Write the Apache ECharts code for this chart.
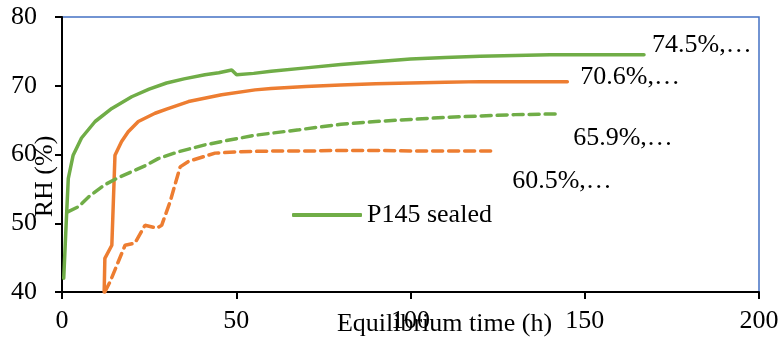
<!DOCTYPE html>
<html>
<head>
<meta charset="utf-8">
<script src="https://cdn.jsdelivr.net/npm/echarts@6/dist/echarts.min.js"></script>
<style>
  html, body { margin: 0; padding: 0; background: #fff; }
  #main { width: 781px; height: 342px; }
</style>
</head>
<body>
<div id="main"></div>
<script>
// green solid (the only series shown in the legend)
const sealedTime = [0.5, 1.2, 1.8, 3.2, 5.6, 9.5, 14.3, 20, 25, 30, 35, 41, 45, 48.7, 50.1, 55, 60, 70, 80, 90, 100, 110, 120, 130, 140, 150, 167];
const sealedRH = [42, 50, 56.5, 59.9, 62.4, 64.8, 66.7, 68.4, 69.5, 70.4, 71.0, 71.6, 71.9, 72.3, 71.6, 71.8, 72.1, 72.6, 73.1, 73.5, 73.9, 74.1, 74.3, 74.4, 74.5, 74.5, 74.5];

// orange solid
const orangeTime = [12.1, 12.3, 14.3, 15.2, 17.1, 19, 21.9, 26.7, 30, 36.3, 45.8, 55.4, 60, 70, 80, 90, 100, 110, 120, 130, 140, 145];
const orangeRH = [40, 44.9, 46.8, 59.9, 61.9, 63.3, 64.8, 66.0, 66.6, 67.7, 68.7, 69.4, 69.6, 69.9, 70.1, 70.3, 70.4, 70.5, 70.6, 70.6, 70.6, 70.6];

// green dashed
const greenDashTime = [1.8, 4.7, 8, 12.3, 16, 20, 24, 27.6, 33.4, 41, 48, 55.4, 68, 80, 90, 100, 110, 120, 130, 141.5];
const greenDashRH = [51.7, 52.4, 54, 55.6, 56.6, 57.5, 58.4, 59.4, 60.4, 61.4, 62.1, 62.8, 63.6, 64.4, 64.8, 65.1, 65.4, 65.6, 65.8, 65.9];

// orange dashed
const orangeDashTime = [12.3, 13.8, 18.1, 20.9, 23.8, 27.2, 28.6, 31, 33.9, 36.3, 43.9, 50.6, 60, 70, 80, 90, 100, 110, 124];
const orangeDashRH = [40, 41.5, 46.8, 47.1, 49.7, 49.3, 49.7, 53.1, 58.2, 59.0, 60.2, 60.4, 60.5, 60.5, 60.6, 60.6, 60.5, 60.5, 60.5];

const endLabels = ["74.5%,…", "70.6%,…", "65.9%,…", "60.5%,…"];

const serif = "Liberation Serif, Times New Roman, serif";
const green = "#70AD47";
const orange = "#ED7D31";

function pairs(xs, ys) {
  return xs.map((x, i) => [x, ys[i]]);
}

function makeSeries(name, xs, ys, color, dashed, label, offset) {
  return {
    name: name,
    type: "line",
    data: pairs(xs, ys),
    showSymbol: false,
    symbol: "none",
    color: color,
    lineStyle: { width: 3.5, color: color, type: dashed ? [10, 6] : "solid", cap: "round" },
    endLabel: {
      show: true,
      formatter: label,
      offset: offset,
      fontFamily: serif,
      fontSize: 26,
      color: "#000"
    },
    animation: false
  };
}

let myChart = echarts.init(document.getElementById("main"));
let option = {
  animation: false,
  grid: {
    left: 62,
    right: 22,
    top: 17,
    bottom: 50,
    containLabel: false,
    outerBoundsMode: "none",
    show: true,
    borderColor: "#4472C4",
    borderWidth: 1.5
  },
  legend: {
    data: ["P145 sealed"],
    left: 287,
    top: 197,
    itemWidth: 70,
    itemHeight: 4,
    itemGap: 8,
    icon: "roundRect",
    textStyle: { fontFamily: serif, fontSize: 26, color: "#000" }
  },
  xAxis: {
    type: "value",
    min: 0,
    max: 200,
    interval: 50,
    name: "Equilibrium time (h)",
    nameLocation: "middle",
    nameGap: 19,
    nameMoveOverlap: false,
    nameTextStyle: { fontFamily: serif, fontSize: 26, color: "#000", padding: [0, 0, 0, 68] },
    axisLine: { lineStyle: { color: "#000", width: 2 } },
    axisTick: { show: true, length: 7, lineStyle: { color: "#000", width: 2 } },
    axisLabel: { fontFamily: serif, fontSize: 26, color: "#000", margin: 16 },
    splitLine: { show: false }
  },
  yAxis: {
    type: "value",
    min: 40,
    max: 80,
    interval: 10,
    name: "RH (%)",
    nameLocation: "middle",
    nameRotate: 90,
    nameGap: 4,
    nameMoveOverlap: false,
    nameTextStyle: { fontFamily: serif, fontSize: 26, color: "#000", padding: [0, 44, 0, 0] },
    axisLine: { show: true, lineStyle: { color: "#000", width: 2 } },
    axisTick: { show: true, length: 7, lineStyle: { color: "#000", width: 2 } },
    axisLabel: { fontFamily: serif, fontSize: 26, color: "#000", margin: 25 },
    splitLine: { show: false }
  },
  series: [
    makeSeries("P145 sealed", sealedTime, sealedRH, green, false, endLabels[0], [0, -10]),
    makeSeries("Series 2", orangeTime, orangeRH, orange, false, endLabels[1], [5, -4]),
    makeSeries("Series 3", greenDashTime, greenDashRH, green, true, endLabels[2], [10, 24]),
    makeSeries("Series 4", orangeDashTime, orangeDashRH, orange, true, endLabels[3], [10, 30])
  ]
};
myChart.setOption(option);
</script>
</body>
</html>
